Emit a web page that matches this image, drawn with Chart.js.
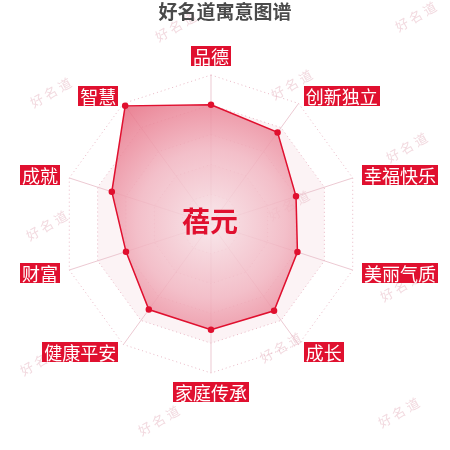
<!DOCTYPE html>
<html>
<head>
<meta charset="utf-8">
<script src="https://cdn.jsdelivr.net/npm/chart.js@4.4.1/dist/chart.umd.min.js"></script>
<style>
  html, body { margin: 0; padding: 0; background: #fff; }
  #wrap { width: 450px; height: 450px; }
</style>
</head>
<body>
<div id="wrap"><canvas id="radar" width="450" height="450"></canvas></div>
<script>
// chart data
var categories = ['品德', '创新独立', '幸福快乐', '美丽气质', '成长', '家庭传承', '健康平安', '财富', '成就', '智慧'];
var meaningScores = [80, 76, 60, 61, 72, 71, 71, 60, 70, 98];
var titleText = '好名道寓意图谱';
var nameText = '蓓元';
var watermarkText = '好名道';

var red = '#e0102f';
var fontFamily = '"Noto Sans CJK SC", "Noto Sans", sans-serif';

// watermark spots (decoration only)
var marks = [[177, 26], [417, 16], [52, 92], [293, 84], [408, 147], [48, 225], [290, 205], [402, 286], [42, 360], [282, 347], [160, 420], [400, 412]];

var backgroundPlugin = {
	id: 'background',
	beforeDraw: function(chart) {
		var ctx = chart.ctx;
		var scale = chart.scales.r;
		// watermarks
		ctx.save();
		ctx.font = '13px ' + fontFamily;
		ctx.fillStyle = 'rgba(230,180,192,0.5)';
		ctx.textAlign = 'center';
		ctx.textBaseline = 'middle';
		ctx.letterSpacing = '3px';
		for (var m = 0; m < marks.length; m++) {
			ctx.save();
			ctx.translate(marks[m][0], marks[m][1]);
			ctx.rotate(-Math.PI / 6);
			ctx.fillText(watermarkText, 0, 0);
			ctx.restore();
		}
		ctx.restore();
		// split area bands
		var bands = [[60, 80], [20, 40]];
		ctx.save();
		ctx.fillStyle = 'rgba(240,200,210,0.22)';
		for (var b = 0; b < bands.length; b++) {
			ctx.beginPath();
			for (var k = 0; k < 2; k++) {
				var d = scale.getDistanceFromCenterForValue(bands[b][k]);
				for (var i = 0; i < categories.length; i++) {
					var p = scale.getPointPosition(i, d);
					if (i === 0) ctx.moveTo(p.x, p.y); else ctx.lineTo(p.x, p.y);
				}
				ctx.closePath();
			}
			ctx.fill('evenodd');
		}
		ctx.restore();
	}
};

var labelPlugin = {
	id: 'labels',
	afterDraw: function(chart) {
		var ctx = chart.ctx;
		var scale = chart.scales.r;
		var R = scale.drawingArea;
		ctx.save();
		// title
		ctx.font = 'bold 19px ' + fontFamily;
		ctx.fillStyle = '#4a4a4a';
		ctx.textAlign = 'center';
		ctx.textBaseline = 'middle';
		ctx.fillText(titleText, 225, 12);
		// name in the middle
		ctx.font = 'bold 28px ' + fontFamily;
		ctx.fillStyle = red;
		ctx.fillText(nameText, scale.xCenter - 1, scale.yCenter - 3);
		// axis names
		ctx.font = '18px ' + fontFamily;
		for (var i = 0; i < categories.length; i++) {
			var px = scale.getPointPosition(i, R + 12);
			var py = scale.getPointPosition(i, R + 9);
			var dx = px.x - scale.xCenter;
			var w = ctx.measureText(categories[i]).width + 4;
			var h = 20;
			var left, cy = py.y;
			if (Math.abs(dx) < 1) {
				left = px.x - w / 2;
				cy = py.y < scale.yCenter ? py.y - h / 2 : py.y + h / 2;
			} else if (dx > 0) {
				left = px.x - 2;
			} else {
				left = px.x - w + 2;
			}
			ctx.fillStyle = red;
			ctx.fillRect(Math.round(left), Math.round(cy - h / 2), Math.round(w), h);
			ctx.fillStyle = '#fff';
			ctx.textAlign = 'center';
			ctx.fillText(categories[i], left + w / 2, cy + 1);
		}
		ctx.restore();
	}
};

var radarChart = new Chart(document.getElementById('radar'), {
	type: 'radar',
	data: {
		labels: categories,
		datasets: [{
			data: meaningScores,
			borderColor: red,
			borderWidth: 1.5,
			pointRadius: 2.5,
			pointBackgroundColor: red,
			pointBorderColor: red,
			fill: true,
			backgroundColor: function(context) {
				var chart = context.chart;
				var scale = chart.scales.r;
				if (!scale || !scale.drawingArea) return 'rgba(236,140,155,0.7)';
				var g = chart.ctx.createRadialGradient(scale.xCenter, scale.yCenter, 0, scale.xCenter, scale.yCenter, scale.drawingArea);
				g.addColorStop(0, 'rgba(247,228,232,0.85)');
				g.addColorStop(0.5, 'rgba(241,180,192,0.85)');
				g.addColorStop(1, 'rgba(230,105,126,0.85)');
				return g;
			}
		}]
	},
	options: {
		responsive: false,
		animation: false,
		layout: { padding: { left: 62, right: 90, top: 75, bottom: 77 } },
		plugins: {
			legend: { display: false },
			tooltip: { enabled: false }
		},
		scales: {
			r: {
				min: 0,
				max: 100,
				ticks: { display: false, stepSize: 20 },
				pointLabels: { display: false },
				grid: { color: 'rgba(225,160,178,0.75)', lineWidth: 1 },
				border: { dash: [1, 3] },
				angleLines: { color: 'rgba(234,195,205,0.9)', lineWidth: 1 }
			}
		}
	},
	plugins: [backgroundPlugin, labelPlugin]
});
</script>
</body>
</html>
